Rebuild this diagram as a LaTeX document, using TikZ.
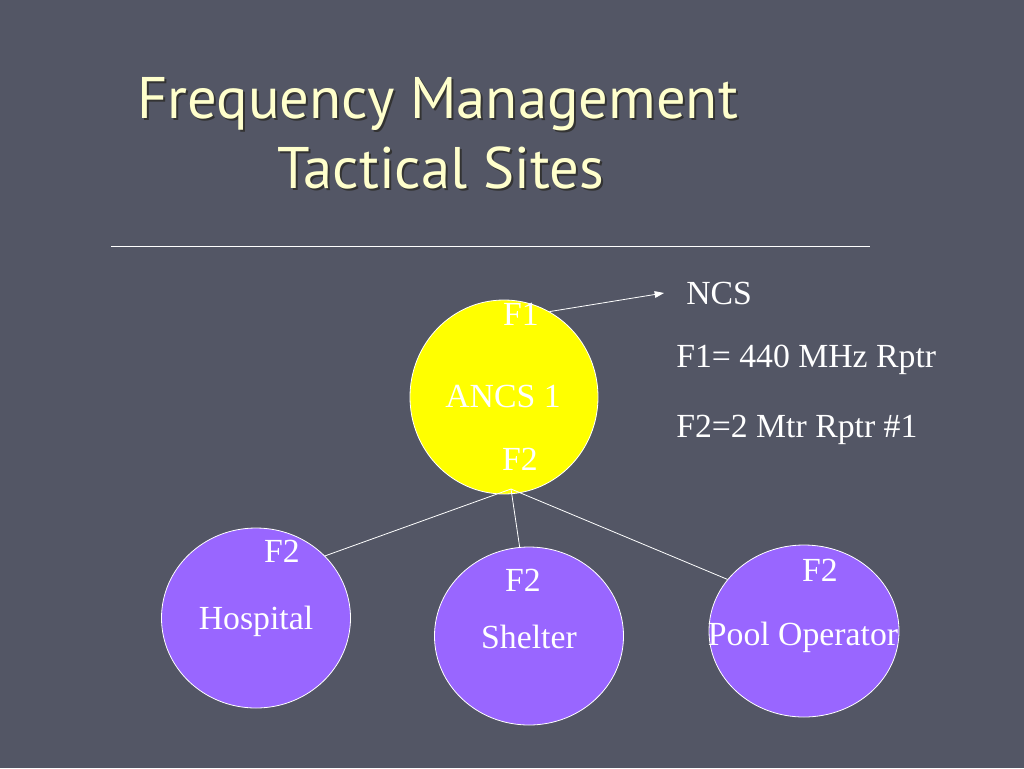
\documentclass[tikz,border=0pt]{standalone}
\usepackage{fontspec}
\setmainfont{Liberation Serif}
\newfontfamily\titlefont{PT Sans}
\usepackage{xcolor}
\usepackage{tikz}
\usetikzlibrary{positioning,arrows.meta,shapes.geometric}

\definecolor{slidebg}{RGB}{83,86,101}
\definecolor{titleyellow}{RGB}{255,255,204}
\definecolor{sitepurple}{RGB}{153,102,255}
\definecolor{ncsyellow}{RGB}{255,255,0}

\begin{document}
\begin{tikzpicture}[
    x=0.75pt, y=-0.75pt,
    site/.style={ellipse, draw=white, line width=0.6pt, fill=sitepurple,
        minimum width=189*0.75pt, inner sep=0pt},
    txt/.style={text=white, font=\fontsize{25.3}{28}\selectfont, inner sep=0pt},
    ttl/.style={text=titleyellow, font=\titlefont\fontsize{44}{50}\selectfont,
        anchor=west, inner sep=0pt},
    shd/.style={text=black!80, font=\titlefont\fontsize{44}{50}\selectfont,
        anchor=west, inner sep=0pt},
    link/.style={white, line width=0.6pt},
    arr/.style={-{Triangle[length=7pt,width=5pt]}, white, line width=0.6pt},
]
% slide background
\fill[slidebg] (0,0) rectangle (1024,768);
\useasboundingbox (0,0) rectangle (1024,768);

% title
\node[shd] at (139,106) {Frequency Management};
\node[shd] at (279,170) {Tactical Sites};
\node[ttl] (title1) at (137,104) {Frequency Management};
\node[ttl] (title2) at (277,168) {Tactical Sites};
\draw[white, line width=0.5pt] (111,246) -- (870,246);

% sites
\node[site, fill=ncsyellow, minimum width=188*0.75pt, minimum height=194*0.75pt] (ancs) at (504,397) {};
\node[site, minimum height=180*0.75pt] (hosp) at (256,618) {};
\node[site, minimum height=178*0.75pt] (shelter) at (529,636) {};
\node[site, minimum width=190*0.75pt, minimum height=172*0.75pt] (pool) at (804,631) {};

% labels inside
\node[txt] (ancsF1) at (521,314) {F1};
\node[txt] (ancsName) at (503,396) {ANCS 1};
\node[txt] (ancsF2) at (520,459) {F2};
\node[txt] (hospF2) at (282,551) {F2};
\node[txt] (hospName) at (256,621) {Hospital};
\node[txt] (shelterF2) at (523,580) {F2};
\node[txt] (shelterName) at (529,637) {Shelter};
\node[txt] (poolF2) at (820,570) {F2};
\node[txt] (poolName) at (803,637) {Pool Operator};

% legend
\node[txt, anchor=west] (ncs) at (686,293) {NCS};
\node[txt, anchor=west] (f1key) at (676,360) {F1= 440 MHz Rptr};
\node[txt, anchor=west] (f2key) at (676,430) {F2=2 Mtr Rptr \#1};

% connectors
\coordinate (hub) at (511,489);
\draw[arr] (ancs.62) -- ([xshift=-22*0.75pt]ncs.west);
\draw[link] (hub) -- (hosp.42);
\draw[link] (hub) -- (shelter.96);
\draw[link] (hub) -- (pool.146);
\end{tikzpicture}
\end{document}
